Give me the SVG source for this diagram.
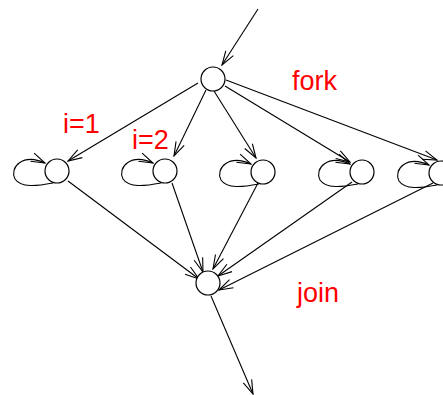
<svg xmlns="http://www.w3.org/2000/svg" width="443" height="395" viewBox="0 0 443 395">
<style>
.n{fill:#fff;stroke:#000;stroke-width:1.2}
.e{fill:none;stroke:#000;stroke-width:1.1;marker-end:url(#a)}
.t{fill:#ff0000;font-family:"Liberation Sans",Arial,sans-serif;font-size:27px}
</style>
<defs>
<marker id="a" markerUnits="userSpaceOnUse" markerWidth="16" markerHeight="12" viewBox="0 0 16 12" refX="15" refY="6" orient="auto">
<path d="M1,1.5 L15,6 L1,10.5" fill="none" stroke="#000" stroke-width="1.1"/>
</marker>
</defs>
<rect width="443" height="395" fill="#fff"/>
<g id="connectors">
<path class="e" d="M258,9 L222,65"/>
<path class="e" d="M198,83 L68,161"/>
<path class="e" d="M206,90 L174,156"/>
<path class="e" d="M214,91 L256,158"/>
<path class="e" d="M225,86 L350,162"/>
<path class="e" d="M226,80 L437,160"/>
<path class="e" d="M68,181 L199,279"/>
<path class="e" d="M172,183 L203,272"/>
<path class="e" d="M258,183 L213,269"/>
<path class="e" d="M352,182 L218,276"/>
<path class="e" d="M433,183 L219,290"/>
<path class="e" d="M211,296 L253,394"/>
<path class="e" d="M53,183 C37,186 21,188 15,179 C9,167 23,153 45,163"/>
<path class="e" d="M161,183 C145,186 129,188 123,179 C117,167 131,153 153,163"/>
<path class="e" d="M259,184 C243,187 227,189 221,180 C215,168 229,154 251,164"/>
<path class="e" d="M358,184 C342,187 326,189 320,180 C314,168 328,154 350,164"/>
<path class="e" d="M437,185 C421,188 405,190 399,181 C393,169 407,155 429,165"/>
</g>
<g id="top"><circle class="n" cx="213" cy="79" r="12"/></g>
<g id="n1"><circle class="n" cx="57" cy="171" r="12"/></g>
<g id="n2"><circle class="n" cx="165" cy="171" r="12"/></g>
<g id="n3"><circle class="n" cx="263" cy="172" r="12"/></g>
<g id="n4"><circle class="n" cx="362" cy="172" r="12"/></g>
<g id="n5"><circle class="n" cx="441" cy="173" r="12"/></g>
<g id="join"><circle class="n" cx="208" cy="283" r="12"/></g>
<g id="labels">
<text class="t" x="292" y="90">fork</text>
<text class="t" x="63" y="133">i=1</text>
<text class="t" x="132" y="149">i=2</text>
<text class="t" x="297" y="302">join</text>
</g>
</svg>
